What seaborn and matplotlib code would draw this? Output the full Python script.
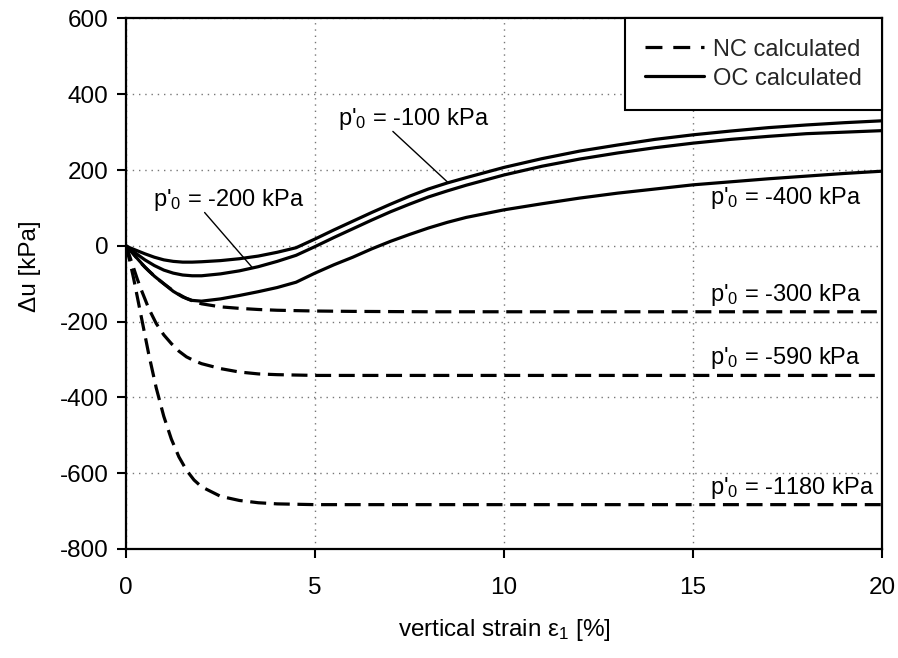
import matplotlib
matplotlib.use("Agg")
import matplotlib.pyplot as plt
from matplotlib.lines import Line2D
import numpy as np
import pandas as pd
import seaborn as sns

# --- overconsolidated (OC) calculated curves: excess pore pressure vs. vertical strain
oc_strain = [0, 0.1, 0.25, 0.5, 0.75, 1.0, 1.25, 1.5, 1.75, 2.0, 2.5, 3.0, 3.5, 4.0, 4.5,
             5.0, 5.5, 6.0, 6.5, 7.0, 7.5, 8.0, 8.5, 9.0, 10, 11, 12, 13, 14, 15, 16, 17, 18, 19, 20]
oc_p100 = [0, -5, -11, -21, -30, -37, -41, -43, -43, -42, -39, -34, -27, -17, -5,
           18, 42, 65, 88, 110, 131, 150, 166, 180, 207, 230, 250, 266, 281, 293, 303, 312, 319, 325, 330]
oc_p200 = [0, -8, -19, -37, -52, -64, -72, -77, -79, -79, -74, -66, -55, -41, -25,
           -2, 22, 45, 68, 90, 110, 129, 145, 160, 187, 210, 229, 245, 259, 271, 281, 289, 296, 300, 304]
oc_p400 = [0, -10, -28, -56, -80, -100, -120, -135, -144, -146, -140, -131, -121, -110, -96,
           -72, -50, -30, -8, 12, 30, 47, 62, 75, 95, 111, 126, 139, 150, 161, 169, 177, 184, 191, 197]

# --- normally consolidated (NC) calculated curves
nc_strain = [0, 0.1, 0.2, 0.3, 0.4, 0.5, 0.6, 0.8, 1.0, 1.2, 1.4, 1.6, 1.8, 2.0, 2.5,
             3.0, 3.5, 4.0, 5.0, 6.0, 8.0, 10, 15, 20]
nc_p300 = [0, -10, -22, -34, -46, -56, -66, -84, -100, -115, -128, -139, -147, -153, -161,
           -165, -168, -170, -172, -173, -174, -174, -174, -174]
nc_p590 = [0, -28, -58, -88, -115, -140, -165, -205, -235, -258, -278, -293, -303, -311, -324,
           -333, -338, -340, -342, -342, -342, -342, -342, -342]
nc_p1180 = [0, -40, -85, -135, -185, -235, -285, -375, -450, -510, -557, -592, -618, -636, -661,
            -672, -678, -681, -683, -683, -683, -683, -683, -683]

# curve labels: (text, x, y) and leader lines (x pair, y pair)
label_text = ["p'$_\\mathregular{0}$ = -100 kPa", "p'$_\\mathregular{0}$ = -200 kPa",
              "p'$_\\mathregular{0}$ = -400 kPa", "p'$_\\mathregular{0}$ = -300 kPa",
              "p'$_\\mathregular{0}$ = -590 kPa", "p'$_\\mathregular{0}$ = -1180 kPa"]
label_x = [5.6, 0.72, 15.45, 15.45, 15.45, 15.45]
label_y = [334, 122, 127, -130, -297, -639]
leader_x = [[7.06, 8.52], [2.08, 3.33]]
leader_y = [[302, 167], [88, -56]]

x_ticks = [0, 5, 10, 15, 20]
y_ticks = [-800, -600, -400, -200, 0, 200, 400, 600]

frames = []
for name, vals in [("OC -100", oc_p100), ("OC -200", oc_p200), ("OC -400", oc_p400)]:
    frames.append(pd.DataFrame({"strain": oc_strain, "du": vals, "curve": name, "type": "OC"}))
for name, vals in [("NC -300", nc_p300), ("NC -590", nc_p590), ("NC -1180", nc_p1180)]:
    frames.append(pd.DataFrame({"strain": nc_strain, "du": vals, "curve": name, "type": "NC"}))
df = pd.concat(frames, ignore_index=True)

sns.set_style("ticks")
plt.rcParams["font.family"] = ["Liberation Sans", "DejaVu Sans"]
plt.rcParams["axes.unicode_minus"] = False
plt.rcParams["mathtext.default"] = "regular"

FS = 17
FS_TICK = 17.5
fig = plt.figure(figsize=(8.98, 6.58), dpi=100)
ax = fig.add_axes([0.1403, 0.1657, 0.8419, 0.8062])

dash_nc = (5, 2.4)
sns.lineplot(data=df, x="strain", y="du", units="curve", estimator=None,
             style="type", dashes={"OC": "", "NC": dash_nc}, color="black",
             linewidth=2.3, legend=False, ax=ax, sort=False)

for lx, ly in zip(leader_x, leader_y):
    ax.plot(lx, ly, color="black", lw=1.0)

for t, x, y in zip(label_text, label_x, label_y):
    ax.text(x, y, t, fontsize=FS, ha="left", va="center", color="black")

ax.set_xlim(0, 20)
ax.set_ylim(-800, 600)
ax.set_xticks(x_ticks)
ax.set_yticks(y_ticks)
ax.tick_params(axis="both", direction="out", length=6.5, width=1.5, labelsize=FS_TICK,
               color="black", labelcolor="black", top=False, right=False)
ax.tick_params(axis="x", pad=14)
ax.tick_params(axis="y", pad=6)
ax.grid(True, color="#777777", linestyle=(0, (1, 3.5)), linewidth=1.0)
for s in ax.spines.values():
    s.set_visible(True)
    s.set_color("black")
    s.set_linewidth(1.6)

ax.set_xlabel("vertical strain ε$_\\mathregular{1}$ [%]", fontsize=FS_TICK, labelpad=13, color="black")
ax.set_ylabel("Δu [kPa]", fontsize=FS_TICK, color="black")
ax.yaxis.set_label_coords(-0.113, 0.533)

handles = [Line2D([], [], color="black", lw=2.3, dashes=(5.3, 3.4)),
           Line2D([], [], color="black", lw=2.3)]
leg = ax.legend(handles, ["NC calculated", "OC calculated"], loc="upper right",
                fontsize=FS, frameon=True, fancybox=False, framealpha=1,
                edgecolor="black", borderaxespad=0, borderpad=0.85,
                handlelength=2.5, handletextpad=0.4, labelspacing=0.3)
leg.get_frame().set_linewidth(1.5)

fig.savefig("out.png", dpi=100)
